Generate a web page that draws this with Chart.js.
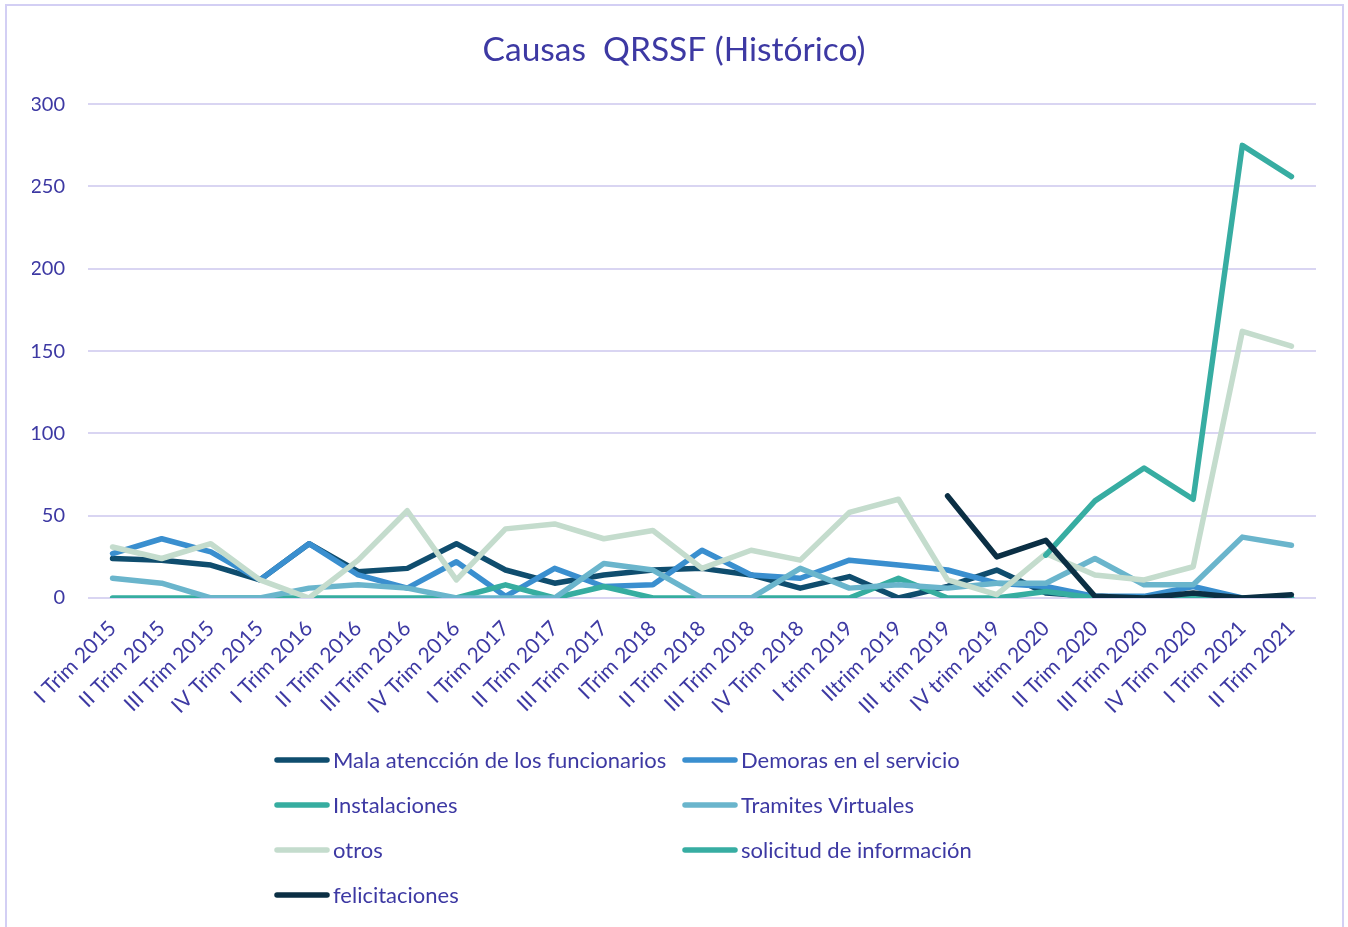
<!DOCTYPE html>
<html>
<head>
<meta charset="utf-8">
<title>Causas QRSSF (Histórico)</title>
<script src="https://cdn.jsdelivr.net/npm/chart.js@4.4.1/dist/chart.umd.min.js"></script>
<style>
    html, body { margin: 0; padding: 0; background: #ffffff; }
    canvas { display: block; }
</style>
</head>
<body>
<canvas id="myChart" width="1348" height="927"></canvas>
<script>
const labels = ['I Trim 2015', 'II Trim 2015', 'III Trim 2015', 'IV Trim 2015',
    'I Trim 2016', 'II Trim 2016', 'III Trim 2016', 'IV Trim 2016',
    'I Trim 2017', 'II Trim 2017', 'III Trim 2017', 'ITrim 2018',
    'II Trim 2018', 'III Trim 2018', 'IV Trim 2018', 'I trim 2019',
    'IItrim 2019', 'III  trim 2019', 'IV trim 2019', 'Itrim 2020',
    'II Trim 2020', 'III Trim 2020', 'IV Trim 2020', 'I Trim 2021', 'II Trim 2021'];

const malaAtencion = [24, 23, 20, 11, 33, 16, 18, 33, 17, 9, 14, 17, 18, 14, 6, 13, 0, 7, 17, 3, 1, 0, 1, 0, 0];
const demoras = [27, 36, 28, 11, 33, 14, 6, 22, 1, 18, 7, 8, 29, 14, 12, 23, 20, 17, 9, 7, 1, 1, 7, 0, 0];
const instalaciones = [0, 0, 0, 0, 0, 0, 0, 0, 8, 0, 7, 0, 0, 0, 0, 0, 12, 0, 0, 4, 0, 0, 0, 0, 0];
const tramites = [12, 9, 0, 0, 6, 8, 6, 0, 0, 0, 21, 17, 0, 0, 18, 6, 8, 6, 9, 9, 24, 8, 8, 37, 32];
const otros = [31, 24, 33, 11, 0, 23, 53, 11, 42, 45, 36, 41, 18, 29, 23, 52, 60, 11, 2, 27, 14, 11, 19, 162, 153];
const solicitud = [null, null, null, null, null, null, null, null, null, null, null, null, null,
    null, null, null, null, null, null, 26, 59, 79, 60, 275, 256];
const felicitaciones = [null, null, null, null, null, null, null, null, null, null, null, null, null,
    null, null, null, null, 62, 25, 35, 1, 0, 3, 0, 2];

const yTicks = [0, 50, 100, 150, 200, 250, 300];

const textColor = '#3d39a3';
const fontFamily = 'Lato, "Liberation Sans", sans-serif';

function serie(label, data, color, order) {
    return {
        label: label,
        data: data,
        borderColor: color,
        backgroundColor: color,
        borderWidth: 5.5,
        pointRadius: 0,
        pointHoverRadius: 0,
        borderCapStyle: 'round',
        borderJoinStyle: 'round',
        tension: 0,
        spanGaps: false,
        order: order
    };
}

// marco del gráfico (como en Excel)
const framePlugin = {
    id: 'frame',
    beforeDraw(chart) {
        const ctx = chart.ctx;
        ctx.save();
        ctx.fillStyle = '#ffffff';
        ctx.fillRect(0, 0, chart.width, chart.height);
        ctx.strokeStyle = '#d3cff4';
        ctx.lineWidth = 2;
        ctx.strokeRect(6, 5, chart.width - 11, chart.height + 10);
        ctx.restore();
    }
};

// leyenda en dos columnas
const legendPlugin = {
    id: 'twoColLegend',
    afterDraw(chart) {
        const ctx = chart.ctx;
        const cols = [275, 683];
        const rowTop = 760;
        const rowGap = 45;
        ctx.save();
        ctx.font = '22px ' + fontFamily;
        ctx.textBaseline = 'middle';
        ctx.textAlign = 'left';
        chart.data.datasets.forEach((ds, i) => {
            const x = cols[i % 2];
            const y = rowTop + Math.floor(i / 2) * rowGap;
            ctx.strokeStyle = ds.borderColor;
            ctx.lineWidth = 5.5;
            ctx.lineCap = 'round';
            ctx.beginPath();
            ctx.moveTo(x + 2, y);
            ctx.lineTo(x + 52, y);
            ctx.stroke();
            ctx.fillStyle = textColor;
            ctx.fillText(ds.label, x + 58, y + 1);
        });
        ctx.restore();
    }
};

new Chart(document.getElementById('myChart'), {
    type: 'line',
    data: {
        labels: labels,
        datasets: [
            serie('Mala atencción de los funcionarios', malaAtencion, '#0f4d6e', 7),
            serie('Demoras en el servicio', demoras, '#3a8fcf', 6),
            serie('Instalaciones', instalaciones, '#36ada0', 5),
            serie('Tramites Virtuales', tramites, '#6ab5cc', 4),
            serie('otros', otros, '#c4dccd', 3),
            serie('solicitud de información', solicitud, '#37ada2', 2),
            serie('felicitaciones', felicitaciones, '#0b2f44', 1)
        ]
    },
    options: {
        responsive: false,
        animation: false,
        devicePixelRatio: 1,
        layout: {
            padding: { left: 32, right: 32, top: 0, bottom: 190 }
        },
        scales: {
            x: {
                offset: true,
                grid: { display: false },
                border: { display: false },
                ticks: {
                    color: textColor,
                    font: { family: fontFamily, size: 21 },
                    maxRotation: 45,
                    minRotation: 45,
                    autoSkip: false,
                    padding: 10
                },
                afterFit: scale => { scale.height = 139; }
            },
            y: {
                min: 0,
                max: 300,
                grid: {
                    color: '#d9d5f2',
                    lineWidth: 2,
                    drawTicks: false
                },
                border: { display: false },
                afterBuildTicks: axis => {
                    axis.ticks = yTicks.map(v => ({ value: v }));
                },
                ticks: {
                    color: textColor,
                    font: { family: fontFamily, size: 20 },
                    padding: 23
                },
                afterFit: scale => { scale.width = 56; }
            }
        },
        plugins: {
            title: {
                display: true,
                text: 'Causas  QRSSF (Histórico)',
                color: textColor,
                font: { family: fontFamily, size: 33.5, weight: 'normal' },
                padding: { top: 30, bottom: 34 }
            },
            legend: { display: false },
            tooltip: { enabled: false }
        }
    },
    plugins: [framePlugin, legendPlugin]
});
</script>
</body>
</html>
